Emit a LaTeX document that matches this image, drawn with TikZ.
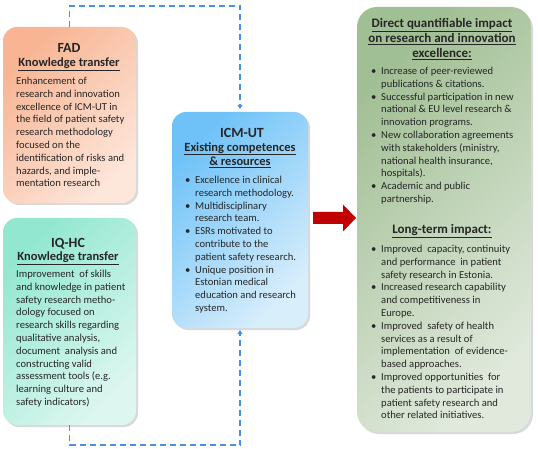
\documentclass[tikz,border=0pt]{standalone}
\usepackage{fontspec}
\setmainfont{Carlito}
\usetikzlibrary{shadows,arrows.meta}
\definecolor{txt}{HTML}{262626}
\definecolor{fadA}{HTML}{F8B493}
\definecolor{fadB}{HTML}{FDE6DA}
\definecolor{iqA}{HTML}{92E7D0}
\definecolor{iqB}{HTML}{DDF7F0}
\definecolor{icmA}{HTML}{6EC2F8}
\definecolor{icmB}{HTML}{D9EEFB}
\definecolor{grA}{HTML}{A1BF94}
\definecolor{grB}{HTML}{E0E9DC}
\definecolor{dashblue}{HTML}{4A8FE0}
\definecolor{arrred}{HTML}{C00000}
\newcommand{\bu}{\makebox[10pt][l]{\textbullet}}
\newcommand{\ind}{\hspace*{10pt}}
\begin{document}
\begin{tikzpicture}[x=1pt,y=-1pt,
  box/.style={rounded corners=14pt, draw=none, outer sep=0pt, inner sep=0pt, anchor=north west,
    shading angle=45, drop shadow={shadow xshift=2pt, shadow yshift=-2pt, opacity=0.25, fill=black!60}},
  ttl/.style={font=\fontsize{14}{16}\selectfont\bfseries, text=txt, inner sep=0pt},
  sub/.style={font=\fontsize{12.5}{14.5}\selectfont\bfseries, text=txt, inner sep=0pt, align=center},
  body/.style={font=\fontsize{10.6}{12.8}\selectfont, text=txt, inner sep=0pt, align=left, anchor=north west},
  dashln/.style={draw=dashblue, line width=1.4pt, dash pattern=on 6pt off 4pt},
]
\useasboundingbox (0,0) rectangle (538,449);

% boxes
\node[box, minimum width=133pt, minimum height=176pt, top color=fadA, bottom color=fadB, shading angle=45] (fad) at (3,27) {};
\node[box, minimum width=133pt, minimum height=207pt, top color=iqA, bottom color=iqB, shading angle=45] (iq) at (3,218) {};
\node[box, minimum width=136pt, minimum height=216pt, top color=icmA, bottom color=icmB, shading angle=45] (icm) at (172,112) {};
\node[box, rounded corners=20pt, minimum width=174pt, minimum height=425pt, top color=grA, bottom color=grB, shading angle=45] (gr) at (357,7) {};

% dashed connectors
\draw[dashln, -{Triangle[width=5pt,length=4pt]}, shorten >=3pt] (fad.north) -- ++(0,-21) -| (icm.north);
\draw[dashln, -{Triangle[width=5pt,length=4pt]}, shorten >=2pt] (iq.south) -- ++(0,20) -| (icm.south);

% red arrow
\fill[arrred] (313,212) -- (343,212) -- (343,204.5) -- (356,218) -- (343,231.5) -- (343,224) -- (313,224) -- cycle;

% FAD
\node[ttl] (fadt) at (69,48) {FAD};
\node[sub] (fads) at (69,64) {\underline{Knowledge transfer}};
\node[body] (fadb) at (16,77) {Enhancement of\\research and innovation\\excellence of ICM-UT in\\the field of patient safety\\research methodology\\focused on the\\identification of risks and\\hazards, and imple-\\mentation research};

% IQ-HC
\node[ttl] (iqt) at (68,244) {IQ-HC};
\node[sub] (iqs) at (68,258) {\underline{Knowledge transfer}};
\node[body] (iqb) at (16,270) {Improvement\ \ of skills\\and knowledge in patient\\safety research metho-\\dology focused on\\research skills regarding\\qualitative analysis,\\document\ \ analysis and\\constructing valid\\assessment tools (e.g.\\learning culture and\\safety indicators)};

% ICM-UT
\node[ttl] (icmt) at (242,133) {ICM-UT};
\node[sub] (icms) at (240,155) {\underline{Existing competences}\\\underline{\& resources}};
\node[body] (icmb) at (185,176) {\bu Excellence in clinical\\\ind research methodology.\\\bu Multidisciplinary\\\ind research team.\\\bu ESRs motivated to\\\ind contribute to the\\\ind patient safety research.\\\bu Unique position in\\\ind Estonian medical\\\ind education and research\\\ind system.};

% Green
\node[sub, font=\fontsize{13}{14.8}\selectfont\bfseries] (grt) at (442,39) {\underline{Direct quantifiable impact}\\\underline{on research and innovation}\\\underline{excellence:}};
\node[body] (grb) at (371,67) {\bu Increase of peer-reviewed\\\ind publications \& citations.\\\bu Successful participation in new\\\ind national \& EU level research \&\\\ind innovation programs.\\\bu New collaboration agreements\\\ind with stakeholders (ministry,\\\ind national health insurance,\\\ind hospitals).\\\bu Academic and public\\\ind partnership.};
\node[sub, font=\fontsize{13}{14.8}\selectfont\bfseries] (grl) at (442,231) {\underline{Long-term impact:}};
\node[body] (grc) at (371,245) {\bu Improved\ \ capacity, continuity\\\ind and performance\ \ in patient\\\ind safety research in Estonia.\\\bu Increased research capability\\\ind and competitiveness in\\\ind Europe.\\\bu Improved\ \ safety of health\\\ind services as a result of\\\ind implementation\ \ of evidence-\\\ind based approaches.\\\bu Improved opportunities\ \ for\\\ind the patients to participate in\\\ind patient safety research and\\\ind other related initiatives.};
\end{tikzpicture}
\end{document}
